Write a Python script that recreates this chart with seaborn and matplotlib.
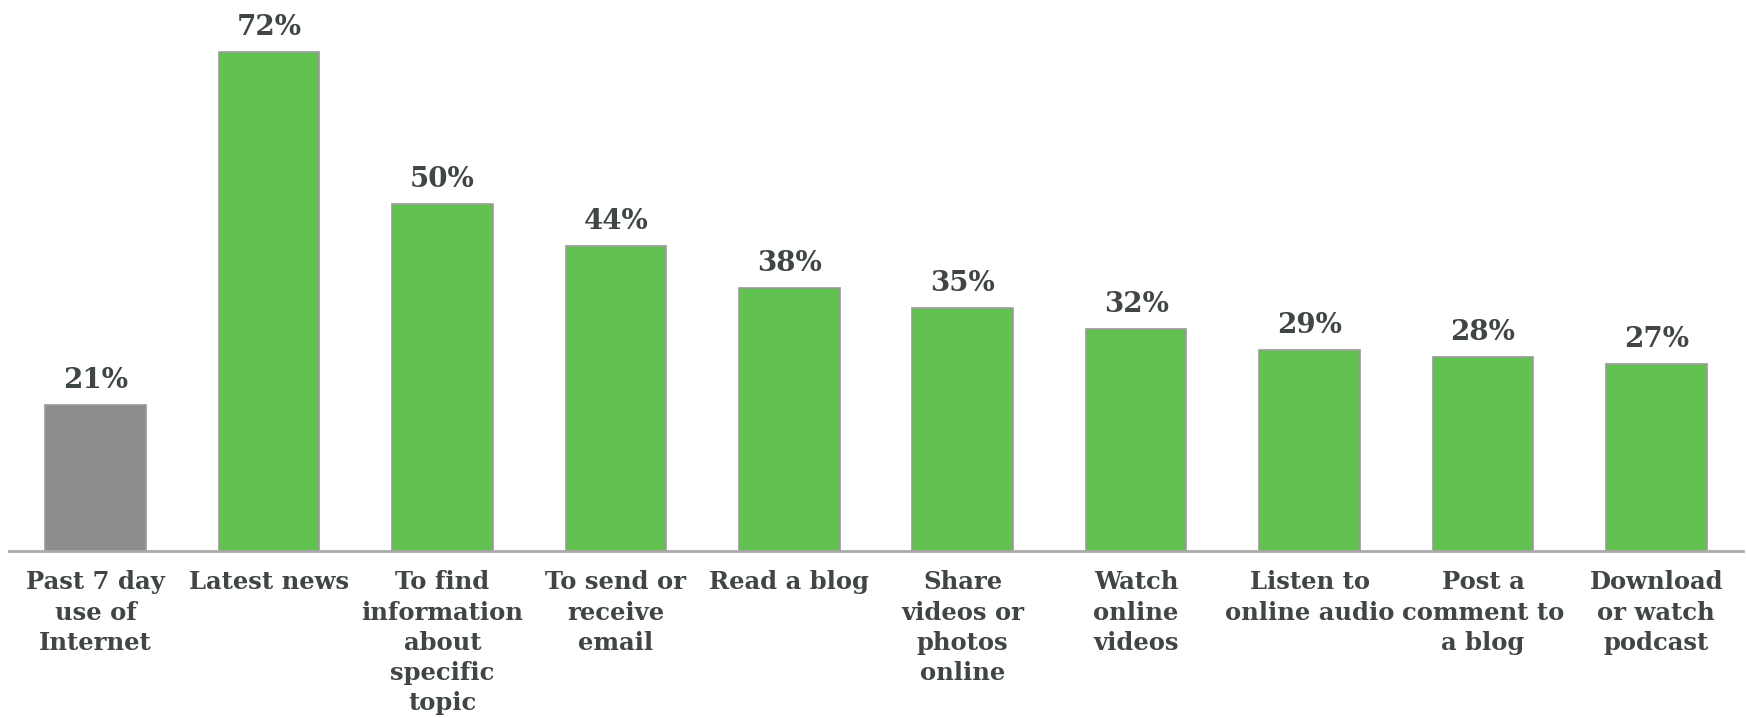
import matplotlib
matplotlib.use("Agg")
import matplotlib.pyplot as plt
import seaborn as sns
import pandas as pd

categories = [
    "Past 7 day\nuse of\nInternet",
    "Latest news",
    "To find\ninformation\nabout\nspecific\ntopic",
    "To send or\nreceive\nemail",
    "Read a blog",
    "Share\nvideos or\nphotos\nonline",
    "Watch\nonline\nvideos",
    "Listen to\nonline audio",
    "Post a\ncomment to\na blog",
    "Download\nor watch\npodcast",
]
values = [21, 72, 50, 44, 38, 35, 32, 29, 28, 27]
groups = ["base"] + ["activity"] * 9

df = pd.DataFrame({"category": categories, "value": values, "group": groups})

sns.set_theme(style="white")
plt.rcParams["font.family"] = ["DejaVu Serif"]

text_color = "#404545"
palette = {"base": "#8c8d8c", "activity": "#62c250"}

fig = plt.figure(figsize=(17.46, 7.18), dpi=100)
ax = fig.add_axes([9 / 1746, (718 - 551) / 718, (1743 - 9) / 1746, 551 / 718])

sns.barplot(
    data=df, x="category", y="value", hue="group", palette=palette,
    dodge=False, width=0.58, edgecolor="#9a9a9a", linewidth=1.2,
    saturation=1, legend=False, ax=ax,
)

for container in ax.containers:
    ax.bar_label(container, labels=[f"{v:.0f}%" for v in container.datavalues],
                 padding=8, fontsize=20, fontweight="bold", color=text_color)

ax.set_xlim(-0.5, len(categories) - 0.5)
ax.set_ylim(0, 79.5)
ax.set_xlabel("")
ax.set_ylabel("")
ax.set_yticks([])
ax.tick_params(axis="x", length=0, pad=14)
for lab in ax.get_xticklabels():
    lab.set_fontsize(17.5)
    lab.set_fontweight("bold")
    lab.set_color(text_color)
    lab.set_linespacing(1.32)
    lab.set_verticalalignment("top")

for side in ["top", "left", "right"]:
    ax.spines[side].set_visible(False)
ax.spines["bottom"].set_color("#aaaaaa")
ax.spines["bottom"].set_linewidth(2)

fig.savefig("out.png", dpi=100)
